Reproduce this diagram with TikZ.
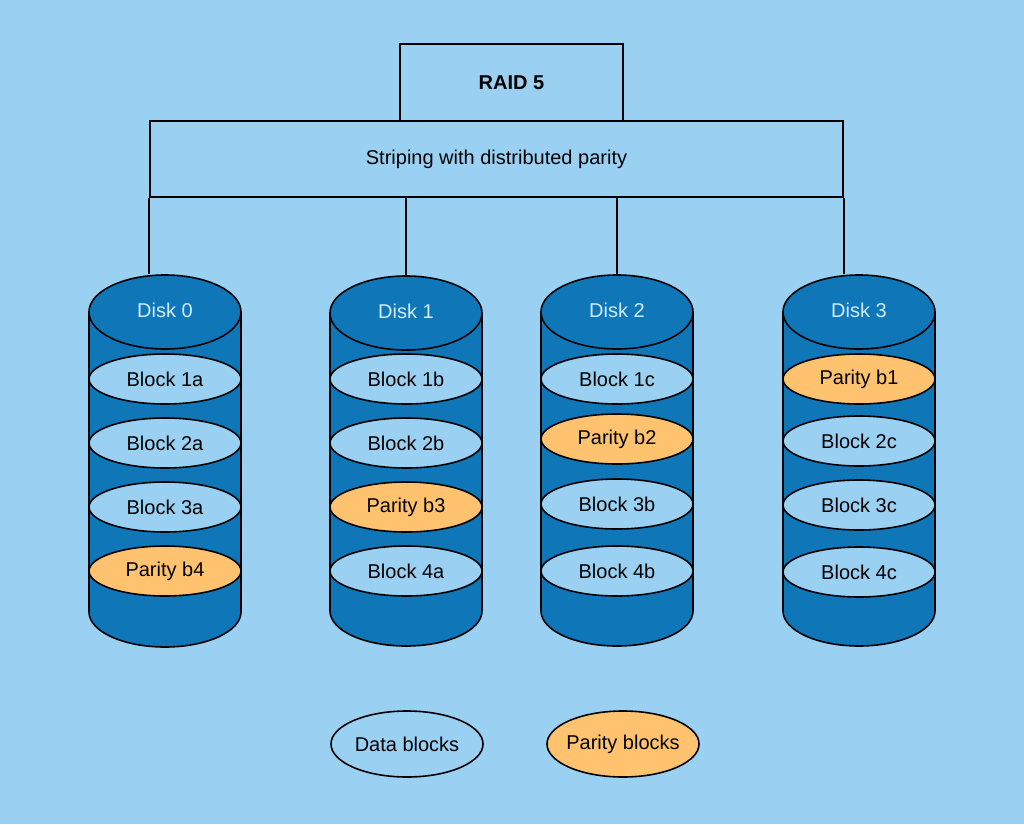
\documentclass[tikz,border=0pt]{standalone}
\usepackage{fontspec}
\setmainfont{Liberation Sans}
\usetikzlibrary{shapes.geometric,positioning}
\definecolor{sky}{HTML}{9AD0F2}
\definecolor{diskblue}{HTML}{0F76B8}
\definecolor{parityorange}{HTML}{FFC370}
\definecolor{disktext}{HTML}{D2EBFA}
% cylinder side and bottom of a disk: x, top y, bottom y
\newcommand{\diskbody}[3]{\filldraw[fill=diskblue] (#1-76,#2) -- (#1-76,#3)
  arc[start angle=180,end angle=360,x radius=76pt,y radius=35pt] -- (#1+76,#2) -- cycle;}

\begin{document}
\begin{tikzpicture}[x=1pt,y=1pt,line width=1.6pt,node distance=64pt,on grid,
    font=\fontsize{20}{24}\selectfont,
    box/.style={draw,fill=sky,rectangle,inner sep=0pt},
    disktop/.style={draw,fill=diskblue,ellipse,text=disktext,minimum width=152pt,minimum height=74pt,inner sep=0pt},
    datablk/.style={draw,fill=sky,ellipse,minimum width=152pt,minimum height=50pt,inner sep=0pt},
    parityblk/.style={datablk,fill=parityorange}]
\fill[sky] (0,0) rectangle (1024,-824);
\useasboundingbox (0,0) rectangle (1024,-824);
% boxes on top
\node[box,minimum width=223pt,minimum height=77pt] (raid) at (511.5,-82.5) {\textbf{RAID 5}};
\node[box,minimum width=693pt,minimum height=76pt] (stripe) at (496.5,-159) {Striping with distributed parity};
% disk bodies
\diskbody{165}{-312}{-612}
\diskbody{406}{-313}{-611}
\diskbody{617}{-312}{-611}
\diskbody{859}{-312}{-611}
% disk 0
\node[disktop] (d0) at (165,-312) {\raisebox{3pt}{Disk 0}};
\node[datablk] (b1a) [below=67pt of d0] {Block 1a};
\node[datablk] (b2a) [below of=b1a] {Block 2a};
\node[datablk] (b3a) [below of=b2a] {Block 3a};
\node[parityblk] (pb4) [below of=b3a] {Parity b4};
% disk 1
\node[disktop] (d1) at (406,-313) {\raisebox{3pt}{Disk 1}};
\node[datablk] (b1b) [below=66pt of d1] {Block 1b};
\node[datablk] (b2b) [below of=b1b] {Block 2b};
\node[parityblk] (pb3) [below of=b2b] {Parity b3};
\node[datablk] (b4a) [below of=pb3] {Block 4a};
% disk 2
\node[disktop] (d2) at (617,-312) {\raisebox{3pt}{Disk 2}};
\node[datablk] (b1c) [below=67pt of d2] {Block 1c};
\node[parityblk] (pb2) [below=60pt of b1c] {Parity b2};
\node[datablk] (b3b) [below=65pt of pb2] {Block 3b};
\node[datablk] (b4b) [below=67pt of b3b] {Block 4b};
% disk 3
\node[disktop] (d3) at (859,-312) {\raisebox{3pt}{Disk 3}};
\node[parityblk] (pb1) [below=67pt of d3] {Parity b1};
\node[datablk] (b2c) [below=62pt of pb1] {Block 2c};
\node[datablk] (b3c) [below of=b2c] {Block 3c};
\node[datablk] (b4c) [below=67pt of b3c] {Block 4c};
% links to the disks
\draw (stripe.south west) -- (d0.north -| stripe.south west);
\draw (stripe.south -| d1.north) -- (d1.north);
\draw (stripe.south -| d2.north) -- (d2.north);
\draw (stripe.south east) -- (d3.north -| stripe.south east);
% legend
\node[datablk,minimum height=66pt,inner xsep=-15pt] (legdata) at (407,-744) {Data blocks};
\node[parityblk,minimum height=66pt,inner xsep=-15pt] (legparity) at (623,-744) {Parity blocks};
\end{tikzpicture}
\end{document}
